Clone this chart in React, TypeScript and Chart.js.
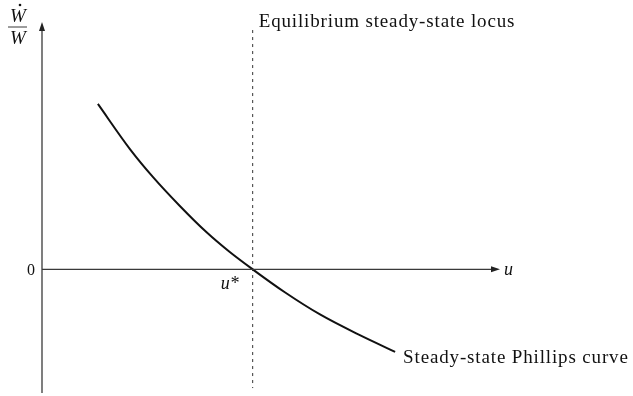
import React, { useEffect, useRef } from "react";
import { Chart, registerables } from "chart.js";

Chart.register(...registerables);

// Steady-state Phillips curve (u, Ẇ/W)
const curveU = [1.22, 1.92, 2.42, 3.01, 3.6, 4.1, 4.6, 5.31, 6.07, 6.94, 7.71];
const curveW = [5.35, 3.89, 2.99, 2.05, 1.19, 0.56, 0, -0.75, -1.46, -2.13, -2.67];

// natural rate u*
const uStar = 4.6;
const locusTop = 7.74;
const locusBottom = -3.84;

const xRange = [0, 10];
const yRange = [-4, 8];

const curveLabel = "Steady-state Phillips curve";
const locusLabel = "Equilibrium steady-state locus";

const SERIF = '"Liberation Serif", "DejaVu Serif", serif';

const axesPlugin = {
  id: "econAxes",
  afterDraw(chart: any) {
    const ctx = chart.ctx as any;
    const xs = chart.scales.x;
    const ys = chart.scales.y;
    const x0 = xs.getPixelForValue(0);
    const y0 = ys.getPixelForValue(0);
    const xEnd = xs.getPixelForValue(xRange[1]);
    const yTop = ys.getPixelForValue(yRange[1]);
    const yBot = ys.getPixelForValue(yRange[0]);
    ctx.save();
    ctx.strokeStyle = "#3a3a3a";
    ctx.fillStyle = "#222";
    ctx.lineWidth = 1.3;
    // y axis
    ctx.beginPath();
    ctx.moveTo(x0, yBot);
    ctx.lineTo(x0, yTop + 4);
    ctx.stroke();
    ctx.beginPath();
    ctx.moveTo(x0, yTop);
    ctx.lineTo(x0 - 3, yTop + 9);
    ctx.lineTo(x0 + 3, yTop + 9);
    ctx.closePath();
    ctx.fill();
    // x axis
    ctx.beginPath();
    ctx.moveTo(x0, y0);
    ctx.lineTo(xEnd - 4, y0);
    ctx.stroke();
    ctx.beginPath();
    ctx.moveTo(xEnd, y0);
    ctx.lineTo(xEnd - 9, y0 - 3);
    ctx.lineTo(xEnd - 9, y0 + 3);
    ctx.closePath();
    ctx.fill();

    // labels
    ctx.fillStyle = "#111";
    ctx.textBaseline = "middle";
    ctx.font = `16px ${SERIF}`;
    ctx.textAlign = "right";
    ctx.fillText("0", x0 - 7, y0 + 1);
    ctx.textAlign = "left";
    ctx.font = `italic 18px ${SERIF}`;
    ctx.fillText("u", xEnd + 4, y0 + 1);

    const us = xs.getPixelForValue(uStar);
    ctx.textAlign = "right";
    ctx.font = `italic 18px ${SERIF}`;
    ctx.fillText("u*", us - 14, y0 + 15);

    // locus label
    ctx.letterSpacing = "0.85px";
    ctx.textAlign = "left";
    ctx.font = `19px ${SERIF}`;
    ctx.fillText(locusLabel, us + 6, ys.getPixelForValue(locusTop) - 8);

    // curve label
    const lastX = xs.getPixelForValue(curveU[curveU.length - 1]);
    const lastY = ys.getPixelForValue(curveW[curveW.length - 1]);
    ctx.fillText(curveLabel, lastX + 8, lastY + 6);
    ctx.letterSpacing = "0px";

    // W dot / W
    const fx = x0 - 25;
    ctx.textAlign = "center";
    ctx.font = `italic 19px ${SERIF}`;
    ctx.fillText("W", fx + 1, yTop - 5);
    ctx.fillText("W", fx + 1, yTop + 17);
    ctx.beginPath();
    ctx.arc(fx + 3, yTop - 17, 1.3, 0, Math.PI * 2);
    ctx.fill();
    ctx.lineWidth = 1;
    ctx.beginPath();
    ctx.moveTo(fx - 9, yTop + 5);
    ctx.lineTo(fx + 10, yTop + 5);
    ctx.stroke();
    ctx.restore();
  },
};

export default function App() {
  const ref = useRef<HTMLCanvasElement | null>(null);
  useEffect(() => {
    if (!ref.current) return;
    const chart = new Chart(ref.current, {
      type: "scatter",
      data: {
        datasets: [
          {
            label: curveLabel,
            data: curveU.map((u, i) => ({ x: u, y: curveW[i] })),
            showLine: true,
            borderColor: "#111",
            borderWidth: 2,
            pointRadius: 0,
            cubicInterpolationMode: "monotone",
          },
          {
            label: locusLabel,
            data: [
              { x: uStar, y: locusTop },
              { x: uStar, y: locusBottom },
            ],
            showLine: true,
            borderColor: "#333",
            borderWidth: 1,
            borderDash: [3, 4],
            pointRadius: 0,
          },
        ],
      },
      options: {
        animation: false,
        responsive: false,
        maintainAspectRatio: false,
        layout: { padding: { left: 42, right: 133, top: 22, bottom: 3 } },
        plugins: { legend: { display: false }, tooltip: { enabled: false } },
        scales: {
          x: { type: "linear", min: xRange[0], max: xRange[1], display: false },
          y: { type: "linear", min: yRange[0], max: yRange[1], display: false },
        },
      },
      plugins: [axesPlugin],
    } as any);
    return () => chart.destroy();
  }, []);
  return (
    <div style={{ position: "fixed", left: 0, top: 0, width: 633, height: 396, background: "#fff" }}>
      <canvas ref={ref} width={633} height={396} style={{ width: 633, height: 396 }} />
    </div>
  );
}
